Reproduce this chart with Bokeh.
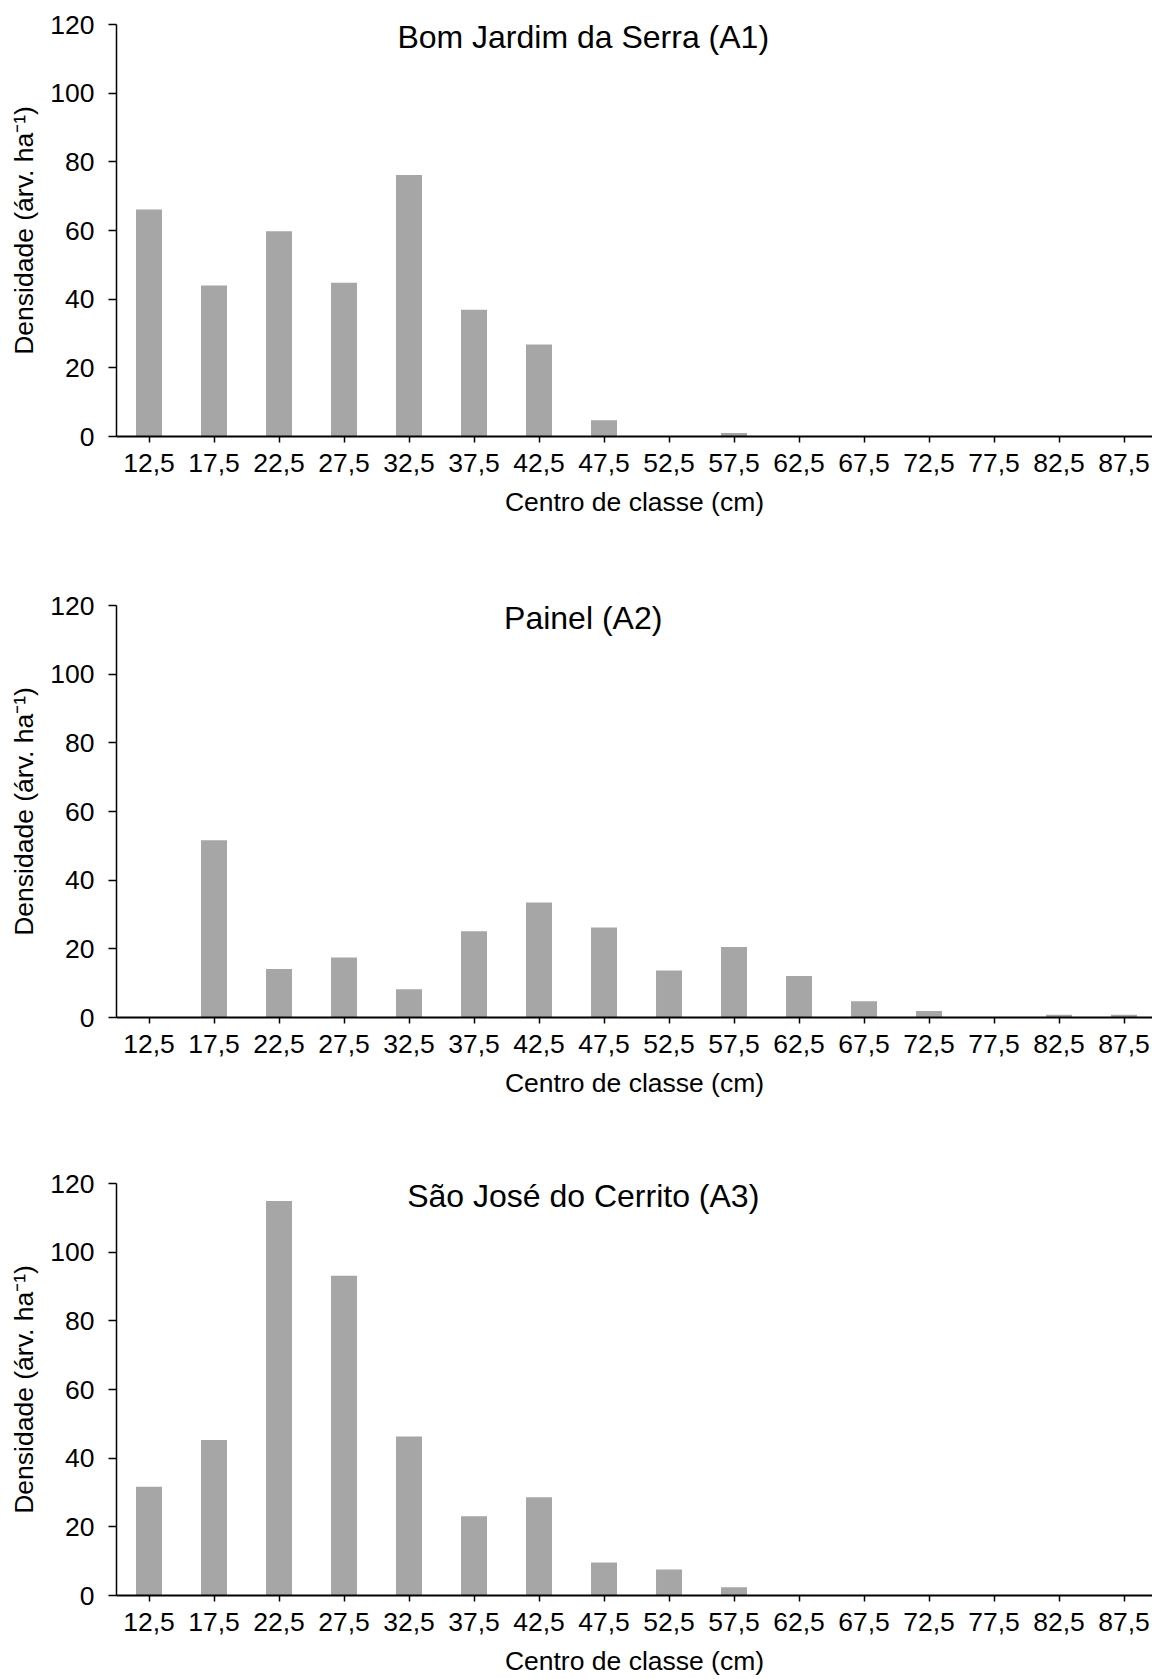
from bokeh.plotting import figure
from bokeh.layouts import column
from bokeh.models import Range1d, FixedTicker, CustomJSTickFormatter, Label
from bokeh.embed import file_html
from bokeh.resources import INLINE

# ---- data ----
class_centers = [12.5, 17.5, 22.5, 27.5, 32.5, 37.5, 42.5, 47.5,
                 52.5, 57.5, 62.5, 67.5, 72.5, 77.5, 82.5, 87.5]
titles = ["Bom Jardim da Serra (A1)", "Painel (A2)", "São José do Cerrito (A3)"]
dens_a1 = [66.1, 44.0, 59.8, 44.8, 76.2, 36.9, 26.8, 4.7, 0, 1.0, 0, 0, 0, 0, 0, 0]
dens_a2 = [0, 51.6, 14.1, 17.5, 8.2, 25.1, 33.5, 26.2, 13.7, 20.5, 12.1, 4.7, 1.9, 0, 0.8, 0.8]
dens_a3 = [31.7, 45.3, 114.9, 93.1, 46.3, 23.1, 28.6, 9.6, 7.6, 2.4, 0, 0, 0, 0, 0, 0]
y_ticks = [0, 20, 40, 60, 80, 100, 120]
x_label = "Centro de classe (cm)"
y_label = "Densidade (árv. ha⁻¹)"

FONT = "Liberation Sans"
BAR = "#A6A6A6"
TICK_FS = "26.5px"
LAB_FS = "26.5px"


def make_panel(title, vals, min_bottom):
    p = figure(frame_width=1036, frame_height=412,
               min_border_left=116, min_border_right=0,
               min_border_top=24, min_border_bottom=min_bottom,
               x_range=Range1d(10, 89.69), y_range=Range1d(0, 120),
               output_backend="svg", toolbar_location=None,
               background_fill_color="white", border_fill_color="white")
    p.outline_line_color = None
    p.xgrid.visible = False
    p.ygrid.visible = False

    p.vbar(x=class_centers, top=vals, width=2.0, fill_color=BAR, line_color=None)

    xa = p.xaxis[0]
    xa.ticker = FixedTicker(ticks=class_centers)
    xa.formatter = CustomJSTickFormatter(code="return tick.toFixed(1).replace('.', ',');")
    xa.axis_line_color = "black"
    xa.axis_line_width = 2
    xa.major_tick_line_color = "black"
    xa.major_tick_line_width = 1.5
    xa.major_tick_out = 6
    xa.major_tick_in = 0
    xa.minor_tick_line_color = None
    xa.major_label_text_font = FONT
    xa.major_label_text_font_size = TICK_FS
    xa.major_label_text_color = "black"
    xa.major_label_standoff = 11
    xa.axis_label = x_label
    xa.axis_label_text_font = FONT
    xa.axis_label_text_font_size = LAB_FS
    xa.axis_label_text_font_style = "normal"
    xa.axis_label_text_color = "black"
    xa.axis_label_standoff = 12

    ya = p.yaxis[0]
    ya.ticker = FixedTicker(ticks=y_ticks)
    ya.axis_line_color = "black"
    ya.axis_line_width = 1.5
    ya.major_tick_line_color = "black"
    ya.major_tick_line_width = 1.5
    ya.major_tick_out = 8
    ya.major_tick_in = 0
    ya.minor_tick_line_color = None
    ya.major_label_text_font = FONT
    ya.major_label_text_font_size = TICK_FS
    ya.major_label_text_color = "black"
    ya.major_label_standoff = 14
    ya.axis_label = y_label
    ya.axis_label_text_font = FONT
    ya.axis_label_text_font_size = LAB_FS
    ya.axis_label_text_font_style = "normal"
    ya.axis_label_text_color = "black"
    ya.axis_label_standoff = 8

    p.add_layout(Label(x=45.9, y=116.5, text=title, text_align="center",
                       text_baseline="alphabetic", text_font=FONT,
                       text_font_size="32px", text_color="black"))
    return p


p1 = make_panel(titles[0], dens_a1, 145)
p2 = make_panel(titles[1], dens_a2, 142)
p3 = make_panel(titles[2], dens_a3, 60)

layout = column(p1, p2, p3, spacing=0)
open("out.html", "w").write(file_html(layout, INLINE))
